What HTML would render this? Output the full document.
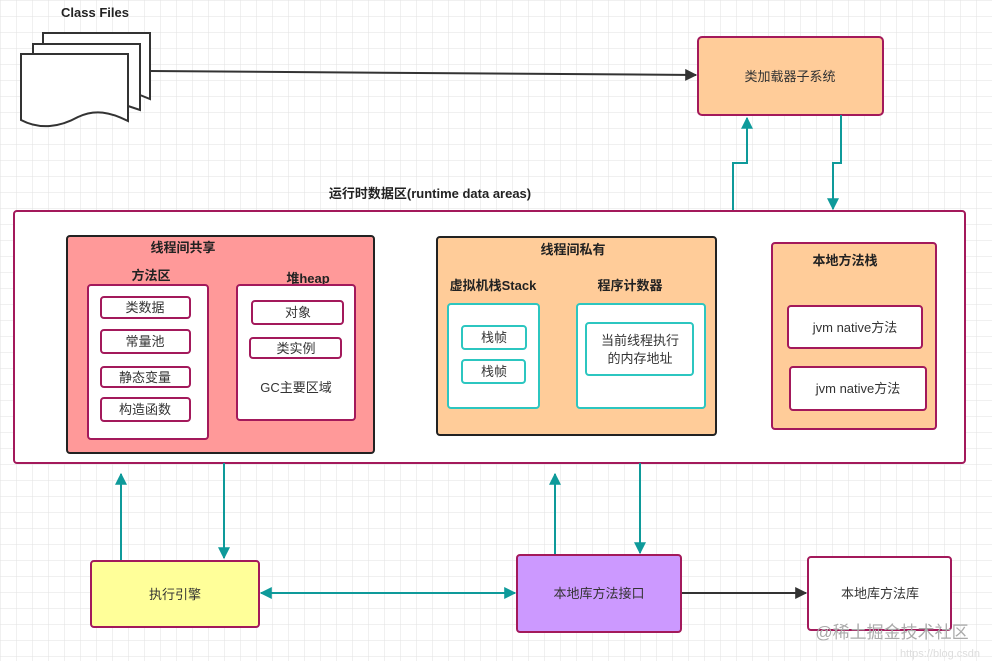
<!DOCTYPE html>
<html><head><meta charset="utf-8"><style>
html,body{margin:0;padding:0;background:#fff}
svg{display:block}
text{font-family:"Liberation Sans","Noto Sans CJK SC",sans-serif;fill:#333}
.b{font-weight:bold;fill:#222}
</style></head><body>
<svg width="992" height="661" viewBox="0 0 992 661" xmlns="http://www.w3.org/2000/svg">
<defs>
<pattern id="g" width="16" height="16" patternUnits="userSpaceOnUse">
<path d="M16 0H0V16" fill="none" stroke="#e2e2e2" stroke-width="1"/>
</pattern>
<marker id="at" viewBox="0 0 10 10" refX="9" refY="5" markerWidth="6" markerHeight="6" orient="auto-start-reverse"><path d="M0 0L10 5L0 10z" fill="#0e9a9a"/></marker>
<marker id="ak" viewBox="0 0 10 10" refX="9" refY="5" markerWidth="6" markerHeight="6" orient="auto"><path d="M0 0L10 5L0 10z" fill="#333"/></marker>
</defs>
<rect width="992" height="661" fill="url(#g)"/>

<text x="95" y="17" class="b" font-size="13" text-anchor="middle">Class Files</text>
<path d="M43 33H150V99L140 95V44H43Z" fill="#fff" stroke="#333" stroke-width="2"/>
<path d="M33 44H140V110L128 106V54H33Z" fill="#fff" stroke="#333" stroke-width="2"/>
<path d="M21 54H128V121C110 112 95 109 78 117C60 127 40 130 21 120Z" fill="#fff" stroke="#333" stroke-width="2"/>
<line x1="150" y1="71" x2="696" y2="75" stroke="#333" stroke-width="2" marker-end="url(#ak)"/>

<rect x="698" y="37" width="185" height="78" rx="4" fill="#ffcc99" stroke="#a3195b" stroke-width="2"/>
<text x="790" y="81" font-size="13" text-anchor="middle">类加载器子系统</text>
<path d="M733 211V163H747V118" fill="none" stroke="#0e9a9a" stroke-width="2" marker-end="url(#at)"/>
<path d="M841 115V163H833V209" fill="none" stroke="#0e9a9a" stroke-width="2" marker-end="url(#at)"/>

<text x="430" y="198" class="b" font-size="13" text-anchor="middle">运行时数据区(runtime data areas)</text>
<rect x="14" y="211" width="951" height="252" rx="3" fill="#fff" stroke="#a3195b" stroke-width="2"/>

<rect x="67" y="236" width="307" height="217" rx="3" fill="#ff9999" stroke="#222" stroke-width="2"/>
<text x="183" y="252" class="b" font-size="13" text-anchor="middle">线程间共享</text>
<text x="151" y="280" class="b" font-size="13" text-anchor="middle">方法区</text>
<rect x="88" y="285" width="120" height="154" rx="3" fill="#fff" stroke="#a3195b" stroke-width="2"/>
<g font-size="13" text-anchor="middle">
<rect x="101" y="297" width="89" height="21" rx="3" fill="#fff" stroke="#a3195b" stroke-width="2"/><text x="145" y="312">类数据</text>
<rect x="101" y="330" width="89" height="23" rx="3" fill="#fff" stroke="#a3195b" stroke-width="2"/><text x="145" y="346">常量池</text>
<rect x="101" y="367" width="89" height="20" rx="3" fill="#fff" stroke="#a3195b" stroke-width="2"/><text x="145" y="382">静态变量</text>
<rect x="101" y="398" width="89" height="23" rx="3" fill="#fff" stroke="#a3195b" stroke-width="2"/><text x="145" y="414">构造函数</text>
</g>
<text x="308" y="283" class="b" font-size="13" text-anchor="middle">堆heap</text>
<rect x="237" y="285" width="118" height="135" rx="3" fill="#fff" stroke="#a3195b" stroke-width="2"/>
<g font-size="13" text-anchor="middle">
<rect x="252" y="301" width="91" height="23" rx="3" fill="#fff" stroke="#a3195b" stroke-width="2"/><text x="298" y="317">对象</text>
<rect x="250" y="338" width="91" height="20" rx="3" fill="#fff" stroke="#a3195b" stroke-width="2"/><text x="296" y="353">类实例</text>
<text x="296" y="392">GC主要区域</text>
</g>

<rect x="437" y="237" width="279" height="198" rx="3" fill="#ffcc99" stroke="#222" stroke-width="2"/>
<text x="573" y="254" class="b" font-size="13" text-anchor="middle">线程间私有</text>
<text x="493" y="290" class="b" font-size="13" text-anchor="middle">虚拟机栈Stack</text>
<text x="630" y="290" class="b" font-size="13" text-anchor="middle">程序计数器</text>
<rect x="448" y="304" width="91" height="104" rx="3" fill="#fff" stroke="#2cc6c0" stroke-width="2"/>
<g font-size="13" text-anchor="middle">
<rect x="462" y="326" width="64" height="23" rx="3" fill="#fff" stroke="#2cc6c0" stroke-width="2"/><text x="494" y="342">栈帧</text>
<rect x="462" y="360" width="63" height="23" rx="3" fill="#fff" stroke="#2cc6c0" stroke-width="2"/><text x="494" y="376">栈帧</text>
<rect x="577" y="304" width="128" height="104" rx="3" fill="#fff" stroke="#2cc6c0" stroke-width="2"/>
<rect x="586" y="323" width="107" height="52" rx="3" fill="#fff" stroke="#2cc6c0" stroke-width="2"/>
<text x="640" y="345">当前线程执行</text><text x="640" y="363">的内存地址</text>
</g>

<rect x="772" y="243" width="164" height="186" rx="3" fill="#ffcc99" stroke="#a3195b" stroke-width="2"/>
<text x="845" y="265" class="b" font-size="13" text-anchor="middle">本地方法栈</text>
<g font-size="13" text-anchor="middle">
<rect x="788" y="306" width="134" height="42" rx="3" fill="#fff" stroke="#a3195b" stroke-width="2"/><text x="855" y="332">jvm native方法</text>
<rect x="790" y="367" width="136" height="43" rx="3" fill="#fff" stroke="#a3195b" stroke-width="2"/><text x="858" y="393">jvm native方法</text>
</g>

<line x1="121" y1="561" x2="121" y2="474" stroke="#0e9a9a" stroke-width="2" marker-end="url(#at)"/>
<line x1="224" y1="463" x2="224" y2="558" stroke="#0e9a9a" stroke-width="2" marker-end="url(#at)"/>
<line x1="555" y1="555" x2="555" y2="474" stroke="#0e9a9a" stroke-width="2" marker-end="url(#at)"/>
<line x1="640" y1="463" x2="640" y2="553" stroke="#0e9a9a" stroke-width="2" marker-end="url(#at)"/>
<line x1="261" y1="593" x2="515" y2="593" stroke="#0e9a9a" stroke-width="2" marker-start="url(#at)" marker-end="url(#at)"/>
<line x1="681" y1="593" x2="806" y2="593" stroke="#333" stroke-width="2" marker-end="url(#ak)"/>

<rect x="91" y="561" width="168" height="66" rx="3" fill="#ffff99" stroke="#a3195b" stroke-width="2"/>
<text x="175" y="599" font-size="13" text-anchor="middle">执行引擎</text>
<rect x="517" y="555" width="164" height="77" rx="3" fill="#cc99ff" stroke="#a3195b" stroke-width="2"/>
<text x="599" y="598" font-size="13" text-anchor="middle">本地库方法接口</text>
<rect x="808" y="557" width="143" height="73" rx="3" fill="#fff" stroke="#a3195b" stroke-width="2"/>
<text x="880" y="598" font-size="13" text-anchor="middle">本地库方法库</text>

<text x="892" y="638" font-size="17" text-anchor="middle" style="fill:#aaa">@稀土掘金技术社区</text>
<text x="940" y="657" font-size="11" text-anchor="middle" style="fill:#ddd">https://blog.csdn</text>
</svg>
</body></html>
